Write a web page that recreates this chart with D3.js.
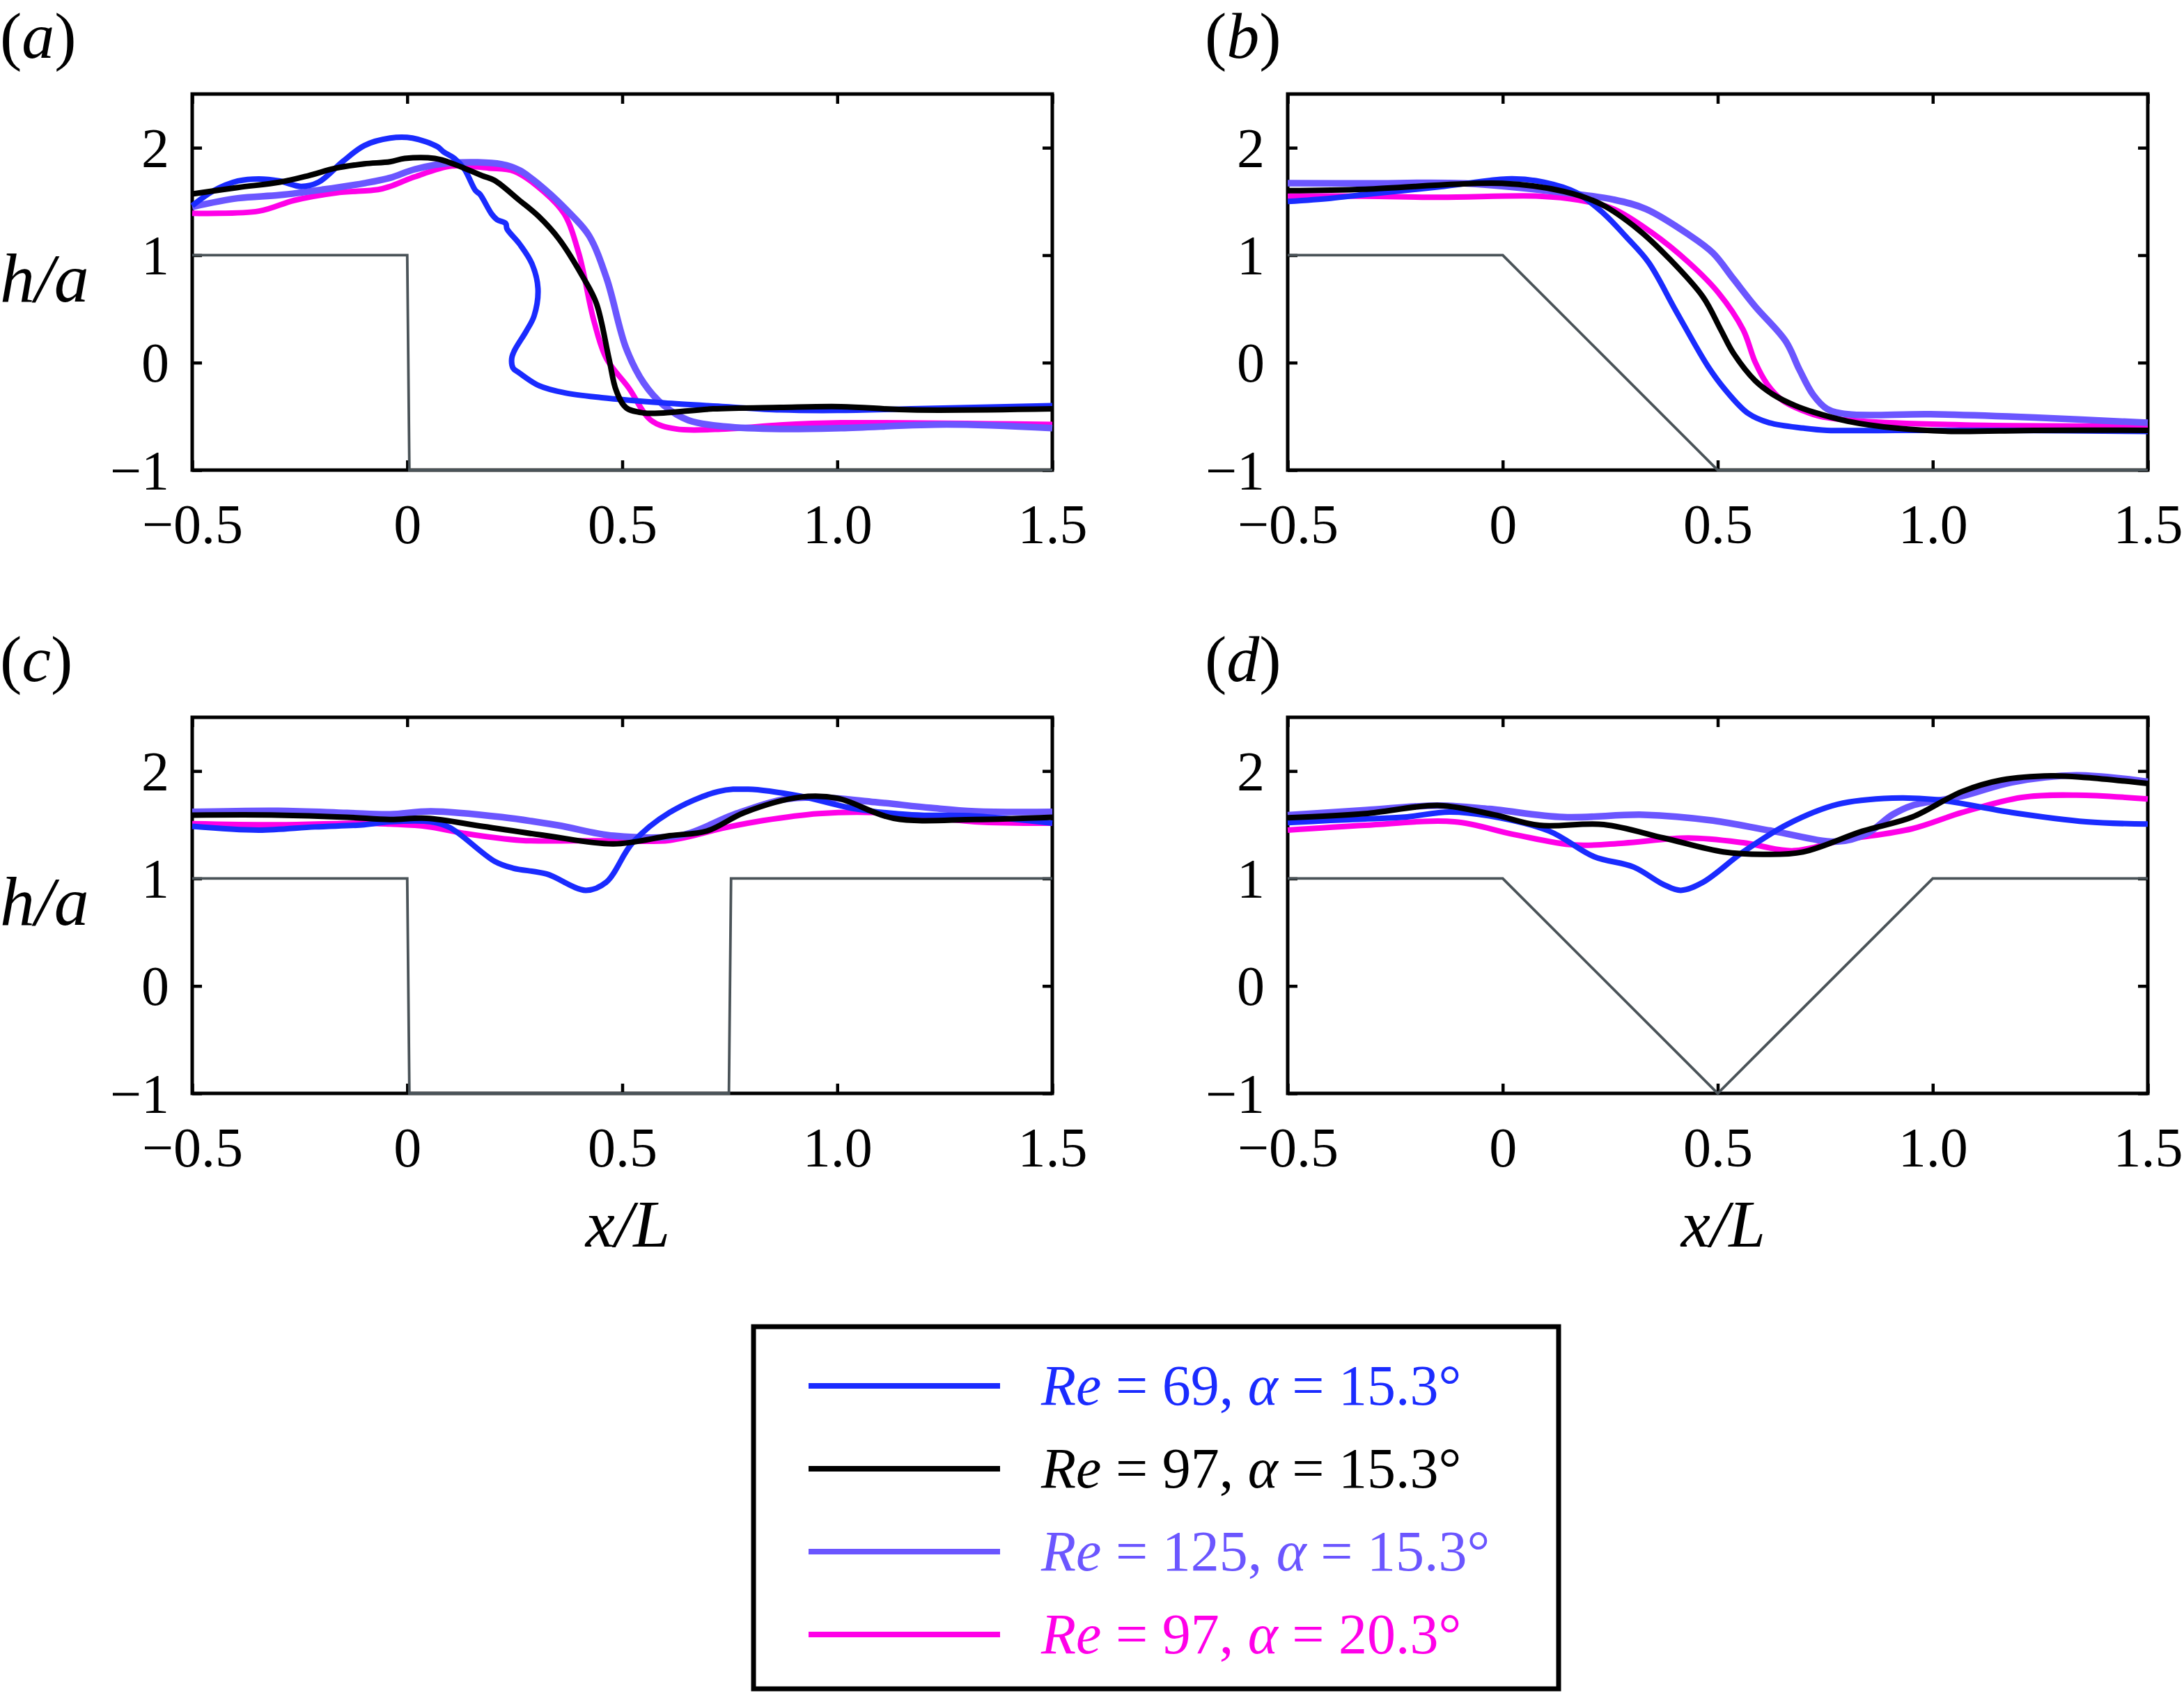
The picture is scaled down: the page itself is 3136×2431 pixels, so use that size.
<!DOCTYPE html>
<html><head><meta charset="utf-8">
<script src="https://cdn.jsdelivr.net/npm/d3@7"></script>
<style>body{margin:0;background:#fff}svg{display:block}</style>
</head><body><svg id="chart"></svg>
<script>
// ---------- axis definitions ----------
const xTicks = [-0.5, 0, 0.5, 1.0, 1.5];
const xTickLabels = ["\u22120.5", "0", "0.5", "1.0", "1.5"];
const yTicks = [-1, 0, 1, 2];
const yTickLabels = ["\u22121", "0", "1", "2"];
const xDomain = [-0.5, 1.5];
const yDomain = [-1, 2.5];

// ---------- legend ----------
const seriesRe = ["69", "97", "125", "97"];
const seriesAlpha = ["15.3", "15.3", "15.3", "20.3"];
const seriesColors = ["#1a2bff", "#000000", "#6b56ff", "#ff00e8"];
const panelLabels = ["a", "b", "c", "d"];

// ---------- panel (a): step ----------
const geomA = [[-0.5,1],[0,1],[0.005,-1],[1.5,-1]];
const a69 = [[-0.5,1.46],[-0.45,1.6],[-0.394,1.69],[-0.345,1.71],[-0.296,1.69],[-0.247,1.64],[-0.206,1.68],[-0.149,1.875],[-0.1,2.02],[-0.04,2.09],[0.012,2.09],[0.07,2.01],[0.085,1.96],[0.11,1.9],[0.133,1.8],[0.159,1.6],[0.169,1.567],[0.196,1.385],[0.209,1.33],[0.229,1.295],[0.232,1.245],[0.261,1.105],[0.29,0.92],[0.304,0.69],[0.295,0.435],[0.277,0.295],[0.249,0.11],[0.243,0.04],[0.246,-0.05],[0.261,-0.097],[0.306,-0.213],[0.365,-0.28],[0.452,-0.326],[0.596,-0.375],[0.74,-0.41],[0.867,-0.44],[1.0,-0.445],[1.172,-0.43],[1.5,-0.40]];
const a97 = [[-0.5,1.57],[-0.394,1.63],[-0.296,1.68],[-0.23,1.74],[-0.166,1.81],[-0.1,1.85],[-0.04,1.87],[-0.006,1.9],[0.064,1.9],[0.11,1.846],[0.174,1.74],[0.203,1.696],[0.261,1.51],[0.306,1.36],[0.353,1.15],[0.411,0.78],[0.44,0.55],[0.469,0.04],[0.486,-0.26],[0.509,-0.42],[0.55,-0.468],[0.596,-0.468],[0.711,-0.43],[0.867,-0.417],[1.009,-0.41],[1.172,-0.44],[1.5,-0.43]];
const a125 = [[-0.5,1.45],[-0.394,1.53],[-0.296,1.56],[-0.198,1.61],[-0.1,1.67],[-0.04,1.72],[0.018,1.8],[0.104,1.86],[0.22,1.846],[0.261,1.79],[0.318,1.62],[0.383,1.37],[0.423,1.18],[0.464,0.78],[0.509,0.134],[0.55,-0.19],[0.596,-0.397],[0.654,-0.537],[0.74,-0.595],[0.867,-0.617],[1.009,-0.61],[1.254,-0.576],[1.5,-0.61]];
const a97b = [[-0.5,1.39],[-0.345,1.41],[-0.263,1.51],[-0.166,1.58],[-0.068,1.61],[-0.04,1.64],[0.018,1.73],[0.104,1.83],[0.19,1.81],[0.249,1.78],[0.318,1.59],[0.365,1.385],[0.399,1.016],[0.434,0.39],[0.463,0.04],[0.515,-0.235],[0.567,-0.537],[0.625,-0.617],[0.74,-0.617],[0.867,-0.58],[1.009,-0.56],[1.5,-0.576]];

// ---------- panel (b): ramp ----------
const geomB = [[-0.5,1],[0,1],[0.5,-1],[1.5,-1]];
const b69 = [[-0.5,1.5],[-0.4,1.53],[-0.32,1.565],[-0.147,1.636],[0.021,1.711],[0.096,1.679],[0.171,1.582],[0.235,1.387],[0.287,1.171],[0.339,0.934],[0.403,0.48],[0.478,-0.039],[0.518,-0.255],[0.57,-0.47],[0.62,-0.56],[0.7,-0.61],[0.754,-0.63],[0.915,-0.63],[1.156,-0.63],[1.5,-0.64]];
const b97 = [[-0.5,1.6],[-0.32,1.614],[-0.002,1.668],[0.142,1.593],[0.229,1.474],[0.316,1.236],[0.385,0.977],[0.466,0.61],[0.507,0.307],[0.536,0.091],[0.587,-0.168],[0.63,-0.3],[0.68,-0.4],[0.722,-0.46],[0.802,-0.545],[0.915,-0.61],[1.043,-0.64],[1.236,-0.63],[1.5,-0.63]];
const b125 = [[-0.5,1.67],[-0.32,1.668],[-0.089,1.668],[0.142,1.582],[0.258,1.517],[0.333,1.43],[0.432,1.193],[0.489,1.02],[0.536,0.782],[0.587,0.523],[0.658,0.2],[0.69,-0.066],[0.722,-0.3],[0.754,-0.43],[0.802,-0.48],[0.995,-0.48],[1.236,-0.51],[1.5,-0.56]];
const b97b = [[-0.5,1.55],[-0.32,1.549],[-0.147,1.539],[0.085,1.549],[0.177,1.513],[0.258,1.43],[0.345,1.215],[0.432,0.934],[0.501,0.653],[0.559,0.307],[0.587,0.005],[0.615,-0.2],[0.65,-0.35],[0.7,-0.45],[0.738,-0.5],[0.834,-0.545],[1.076,-0.58],[1.5,-0.59]];

// ---------- panel (c): trench ----------
const geomC = [[-0.5,1],[0,1],[0.005,-1],[0.748,-1],[0.753,1],[1.5,1]];
const c69 = [[-0.5,1.485],[-0.345,1.45],[-0.215,1.48],[-0.1,1.5],[-0.04,1.528],[0.055,1.528],[0.099,1.474],[0.203,1.16],[0.246,1.096],[0.324,1.042],[0.415,0.89],[0.463,0.966],[0.524,1.333],[0.61,1.614],[0.723,1.809],[0.793,1.83],[0.914,1.766],[1.044,1.647],[1.174,1.593],[1.32,1.582],[1.5,1.515]];
const c97 = [[-0.5,1.59],[-0.3,1.59],[-0.14,1.57],[-0.04,1.549],[0.045,1.56],[0.177,1.484],[0.324,1.398],[0.48,1.322],[0.61,1.398],[0.697,1.442],[0.784,1.614],[0.914,1.757],[1.0,1.747],[1.131,1.56],[1.32,1.549],[1.5,1.57]];
const c125 = [[-0.5,1.62],[-0.3,1.63],[-0.14,1.61],[-0.04,1.597],[0.055,1.625],[0.22,1.571],[0.35,1.495],[0.48,1.398],[0.637,1.402],[0.758,1.593],[0.871,1.733],[0.957,1.755],[1.088,1.711],[1.218,1.657],[1.32,1.625],[1.5,1.62]];
const c97b = [[-0.5,1.51],[-0.3,1.5],[-0.1,1.515],[-0.04,1.506],[0.045,1.484],[0.133,1.42],[0.264,1.355],[0.394,1.351],[0.48,1.351],[0.61,1.355],[0.74,1.474],[0.827,1.539],[0.957,1.604],[1.088,1.614],[1.32,1.528],[1.5,1.515]];

// ---------- panel (d): V-trench ----------
const geomD = [[-0.5,1],[0,1],[0.5,-1],[1,1],[1.5,1]];
const d69 = [[-0.5,1.52],[-0.4,1.54],[-0.32,1.554],[-0.228,1.571],[-0.124,1.619],[-0.031,1.582],[0.108,1.441],[0.212,1.204],[0.304,1.107],[0.374,0.944],[0.414,0.89],[0.466,0.966],[0.559,1.247],[0.663,1.506],[0.779,1.69],[0.906,1.748],[1.009,1.733],[1.184,1.614],[1.357,1.528],[1.5,1.506]];
const d97 = [[-0.5,1.565],[-0.32,1.604],[-0.147,1.679],[-0.02,1.593],[0.085,1.495],[0.235,1.502],[0.374,1.377],[0.513,1.247],[0.605,1.225],[0.698,1.247],[0.837,1.441],[0.952,1.571],[1.068,1.809],[1.16,1.917],[1.276,1.956],[1.357,1.94],[1.5,1.884]];
const d125 = [[-0.5,1.59],[-0.32,1.636],[-0.147,1.679],[-0.031,1.647],[0.142,1.571],[0.328,1.593],[0.489,1.539],[0.628,1.441],[0.779,1.344],[0.848,1.42],[0.906,1.593],[0.952,1.679],[1.068,1.766],[1.184,1.895],[1.334,1.96],[1.5,1.9]];
const d97b = [[-0.5,1.45],[-0.32,1.495],[-0.112,1.528],[0.027,1.409],[0.166,1.312],[0.281,1.329],[0.432,1.377],[0.559,1.333],[0.675,1.258],[0.79,1.355],[0.952,1.463],[1.068,1.614],[1.207,1.755],[1.334,1.776],[1.5,1.74]];

// ---------- drawing ----------
const W = 3136, H = 2431;
const FONT = "'Liberation Serif','Times New Roman','DejaVu Serif',serif";
const svg = d3.select("#chart").attr("width", W).attr("height", H)
  .attr("font-family", FONT);
svg.append("rect").attr("width", W).attr("height", H).attr("fill", "#fff");

const PW = 1235, PH = 540;
const panels = [
  {x0: 276,  y0: 135,  lx: 0,    data: [a97b, a125, a69, a97], geom: geomA, ylab: true,  xlab: false},
  {x0: 1849, y0: 135,  lx: 1730, data: [b97b, b125, b69, b97], geom: geomB, ylab: false, xlab: false},
  {x0: 276,  y0: 1030, lx: 0,    data: [c97b, c125, c69, c97], geom: geomC, ylab: true,  xlab: true},
  {x0: 1849, y0: 1030, lx: 1730, data: [d97b, d125, d69, d97], geom: geomD, ylab: false, xlab: true}
];
const drawColors = [seriesColors[3], seriesColors[2], seriesColors[0], seriesColors[1]];
const drawWidths = [8, 9.5, 8, 8];

panels.forEach((p, pi) => {
  const x = d3.scaleLinear().domain(xDomain).range([p.x0, p.x0 + PW]);
  const y = d3.scaleLinear().domain(yDomain).range([p.y0 + PH, p.y0]);
  const g = svg.append("g");

  // frame
  g.append("rect").attr("x", p.x0).attr("y", p.y0).attr("width", PW).attr("height", PH)
    .attr("fill", "none").attr("stroke", "#000").attr("stroke-width", 5);

  const TS = 14;
  const styleAxis = sel => {
    sel.select(".domain").remove();
    sel.selectAll(".tick line").attr("stroke", "#000").attr("stroke-width", 4.5);
  };
  const bx = g.append("g").attr("transform", `translate(0,${p.y0 + PH})`)
    .call(d3.axisBottom(x).tickValues(xTicks).tickSize(-TS).tickFormat((d, i) => xTickLabels[i]));
  styleAxis(bx);
  bx.selectAll("text").attr("y", 105).attr("dy", 0).attr("font-size", 80)
    .attr("font-family", FONT).attr("fill", "#000");
  const tx = g.append("g").attr("transform", `translate(0,${p.y0})`)
    .call(d3.axisTop(x).tickValues(xTicks).tickSize(-TS).tickFormat(""));
  styleAxis(tx);
  const ly = g.append("g").attr("transform", `translate(${p.x0},0)`)
    .call(d3.axisLeft(y).tickValues(yTicks).tickSize(-TS).tickFormat((d, i) => yTickLabels[i]));
  styleAxis(ly);
  ly.selectAll("text").attr("x", -33).attr("dy", "0.34em").attr("font-size", 80)
    .attr("font-family", FONT).attr("fill", "#000");
  const ry = g.append("g").attr("transform", `translate(${p.x0 + PW},0)`)
    .call(d3.axisRight(y).tickValues(yTicks).tickSize(-TS).tickFormat(""));
  styleAxis(ry);

  // bed geometry
  const gl = d3.line().x(d => x(d[0])).y(d => y(d[1]));
  g.append("path").attr("d", gl(p.geom)).attr("fill", "none")
    .attr("stroke", "#4a5358").attr("stroke-width", 3.8).attr("stroke-linejoin", "miter");

  // data lines
  const dl = d3.line().x(d => x(d[0])).y(d => y(d[1])).curve(d3.curveCatmullRom.alpha(0.5));
  p.data.forEach((s, si) => {
    g.append("path").attr("d", dl(s)).attr("fill", "none")
      .attr("stroke", drawColors[si]).attr("stroke-width", drawWidths[si])
      .attr("stroke-linejoin", "round").attr("stroke-linecap", "butt");
  });

  // panel label
  const pl = g.append("text").attr("x", p.lx).attr("y", p.y0 - 52).attr("font-size", 94);
  pl.append("tspan").text("(");
  pl.append("tspan").attr("font-style", "italic").text(panelLabels[pi]);
  pl.append("tspan").text(")");

  if (p.ylab) {
    g.append("text").attr("x", 0).attr("y", p.y0 + 298).attr("font-size", 100)
      .attr("font-style", "italic").text("h/a");
  }
  if (p.xlab) {
    g.append("text").attr("x", x(0.5) + 8).attr("y", p.y0 + PH + 220).attr("font-size", 95)
      .attr("text-anchor", "middle").attr("font-style", "italic").text("x/L");
  }
});

// legend
const lg = svg.append("g");
lg.append("rect").attr("x", 1082).attr("y", 1905).attr("width", 1156).attr("height", 520)
  .attr("fill", "#fff").attr("stroke", "#000").attr("stroke-width", 7);
const rowY = d3.scaleLinear().domain([0, 3]).range([1990, 2347]);
seriesRe.forEach((re, i) => {
  const yy = rowY(i);
  lg.append("line").attr("x1", 1161).attr("x2", 1436).attr("y1", yy).attr("y2", yy)
    .attr("stroke", seriesColors[i]).attr("stroke-width", 8);
  const t = lg.append("text").attr("x", 1495).attr("y", yy + 27).attr("font-size", 82)
    .attr("fill", seriesColors[i]).attr("xml:space", "preserve");
  t.append("tspan").attr("font-style", "italic").text("Re");
  t.append("tspan").text(" = " + re + ", ");
  t.append("tspan").attr("font-style", "italic").text("\u03b1");
  t.append("tspan").text(" = " + seriesAlpha[i] + "\u00b0");
});
</script></body></html>
